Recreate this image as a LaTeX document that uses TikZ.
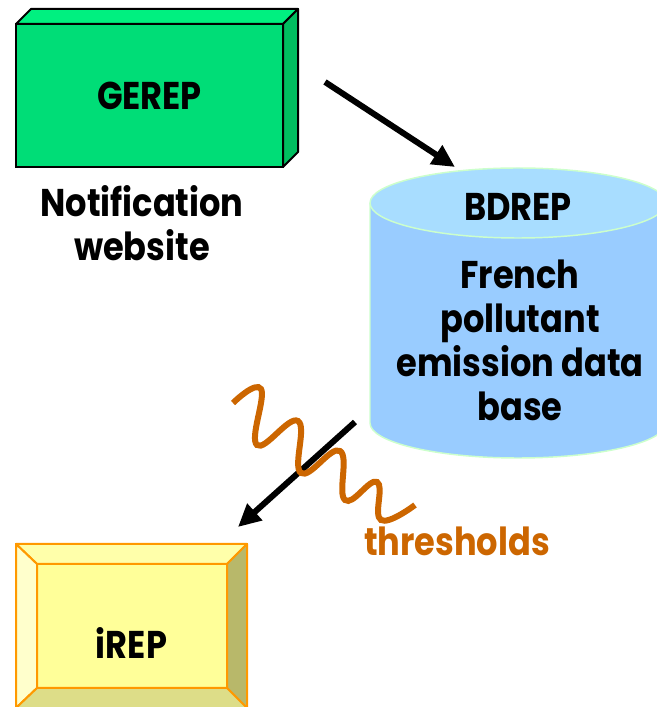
\documentclass[tikz,border=0pt]{standalone}
\usepackage{fontspec}
\setmainfont{Poppins}[FakeStretch=0.87]
\usetikzlibrary{arrows.meta, positioning}

\definecolor{gerepfront}{RGB}{0,221,119}
\definecolor{gereptop}{RGB}{0,240,128}
\definecolor{gerepside}{RGB}{0,190,96}
\definecolor{cylside}{RGB}{153,204,255}
\definecolor{cyltop}{RGB}{168,221,255}
\definecolor{cyledge}{RGB}{204,255,204}
\definecolor{waveorange}{RGB}{204,102,0}
\definecolor{ireporange}{RGB}{255,153,0}
\definecolor{irepface}{RGB}{255,255,153}
\definecolor{ireptop}{RGB}{255,255,170}
\definecolor{irepleft}{RGB}{255,255,204}
\definecolor{irepright}{RGB}{184,184,106}
\definecolor{irepbottom}{RGB}{221,221,136}

\begin{document}
\begin{tikzpicture}[x=0.75pt, y=0.75pt, every node/.style={font=\bfseries\fontsize{29}{33}\selectfont}]
\tikzstyle{slab} = [rectangle, draw=black, fill=gerepfront, line width=1.5pt, inner sep=0pt, outer sep=0pt, minimum width=200.25pt, minimum height=107.25pt]
\tikzstyle{bevelbox} = [rectangle, draw=ireporange, fill=irepface, line width=1.5pt, inner sep=0pt, outer sep=0pt, minimum width=173.25pt, minimum height=123pt]
\tikzstyle{bevel} = [draw=ireporange, line width=1.5pt, line join=round]
\tikzstyle{arrow} = [-{Triangle[length=17pt, width=16pt]}, line width=4.5pt]
\tikzstyle{wave} = [draw=waveorange, line width=4.5pt]

\clip (0,0) rectangle (657,707);

% GEREP block
\node[slab] (gerep) at (149.5,611.5) {GEREP};
\filldraw[fill=gereptop, line width=1.5pt, line join=round] (gerep.north west) -- ++(15,15) -- ++(267,0) -- (gerep.north east) -- cycle;
\filldraw[fill=gerepside, line width=1.5pt, line join=round] (gerep.north east) -- ++(15,15) -- ++(0,-143) -- (gerep.south east) -- cycle;
\node[align=center] (notif) at (142,484) {Notification\\website};

% BDREP data base
\fill[cylside] (370,504) -- (370,284) arc[start angle=180, end angle=360, x radius=148, y radius=35] -- (666,504) -- cycle;
\draw[cyledge, line width=1.1pt] (370,504) -- (370,284) arc[start angle=180, end angle=360, x radius=148, y radius=35] -- (666,504);
\filldraw[draw=cyledge, fill=cyltop, line width=1.1pt] (518,504) ellipse[x radius=148, y radius=35];
\node (bdrep) at (518,500) {BDREP};
\node[align=center] (bdrepnote) at (520,367) {French\\pollutant\\emission data\\base};

% iREP block
\node[bevelbox] (irep) at (131.5,81) {};
\filldraw[bevel, fill=ireptop] (irep.north west) -- (irep.north east) -- ([shift={(-20,-20)}]irep.north east) -- ([shift={(21,-20)}]irep.north west) -- cycle;
\filldraw[bevel, fill=irepleft] (irep.north west) -- (irep.south west) -- ([shift={(21,20)}]irep.south west) -- ([shift={(21,-20)}]irep.north west) -- cycle;
\filldraw[bevel, fill=irepright] (irep.north east) -- (irep.south east) -- ([shift={(-20,20)}]irep.south east) -- ([shift={(-20,-20)}]irep.north east) -- cycle;
\filldraw[bevel, fill=irepbottom] (irep.south west) -- (irep.south east) -- ([shift={(-20,20)}]irep.south east) -- ([shift={(21,20)}]irep.south west) -- cycle;
\node (ireplbl) at ([yshift=-12.75pt]irep.center) {iREP};

% Arrows
\coordinate (a1s) at (325,625);
\coordinate (a1e) at (455,540);
\coordinate (a2s) at (355,285);
\coordinate (a2e) at (238,180);
\draw[arrow] (a1s) -- (a1e);
\draw[arrow] (a2s) -- (a2e);

% Thresholds
\draw[wave] plot[smooth, tension=0.75] coordinates {(233,304) (261,318) (257,262) (298,286) (301,234) (340,256) (345,207) (377,225) (381,187) (415,202)};
\node[anchor=base, text=waveorange] (thr) at (457,151) {thresholds};

\end{tikzpicture}
\end{document}
